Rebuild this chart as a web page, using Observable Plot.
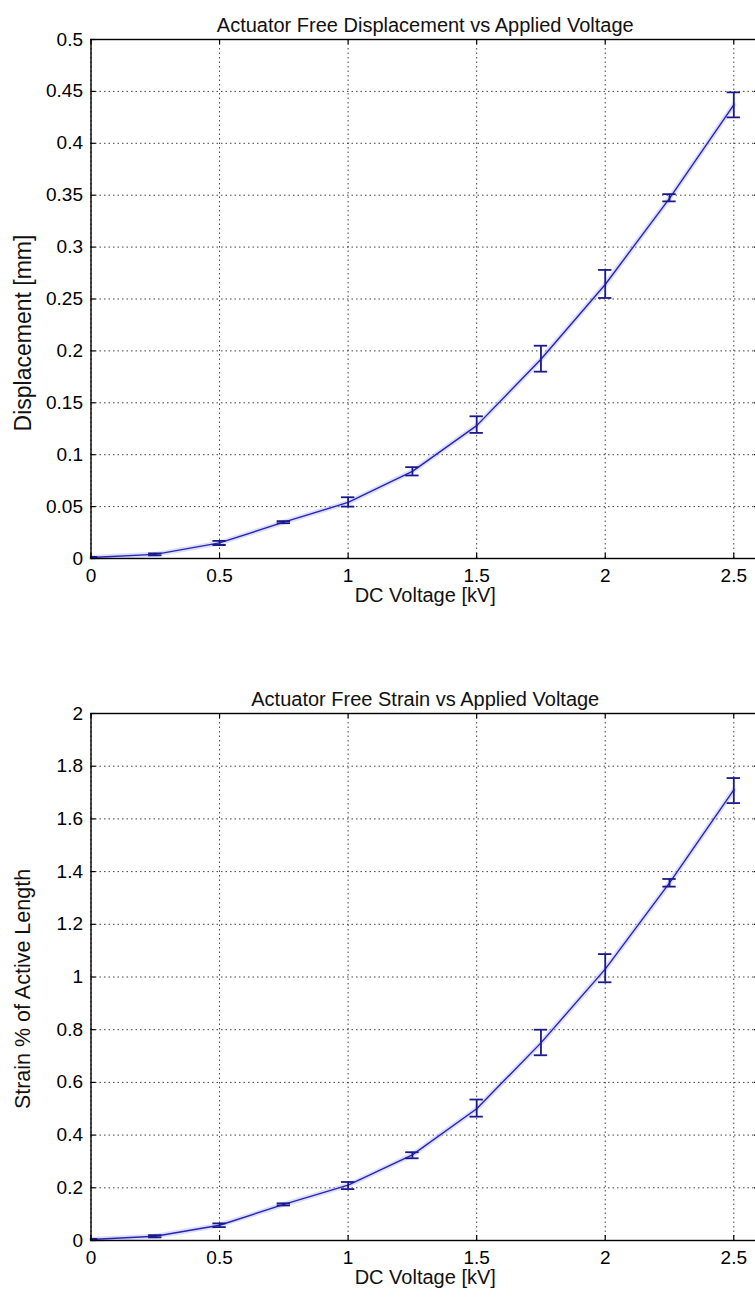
<!DOCTYPE html>
<html>
<head>
<meta charset="utf-8">
<script src="https://cdn.jsdelivr.net/npm/d3@7"></script>
<script src="https://cdn.jsdelivr.net/npm/@observablehq/plot@0.6"></script>
<style>
  html, body { margin: 0; padding: 0; background: #fff; overflow: hidden; }
  #chart { width: 755px; height: 1302px; overflow: hidden; position: relative; }
  #chart svg { display: block; max-width: none; }
</style>
</head>
<body>
<div id="chart"></div>
<script>
// Applied DC voltage steps [kV]
const voltage = [0, 0.25, 0.5, 0.75, 1.0, 1.25, 1.5, 1.75, 2.0, 2.25, 2.5];

// Free displacement [mm]: mean with min/max error range
const displacement     = [0.001, 0.004, 0.015, 0.035, 0.054, 0.084, 0.128, 0.192, 0.264, 0.347, 0.437];
const displacementLow  = [0.0005, 0.003, 0.013, 0.034, 0.050, 0.080, 0.121, 0.180, 0.251, 0.344, 0.425];
const displacementHigh = [0.0015, 0.005, 0.017, 0.036, 0.059, 0.088, 0.137, 0.205, 0.278, 0.351, 0.449];

// Free strain [% of active length]
const strain     = [0.004, 0.016, 0.058, 0.137, 0.210, 0.325, 0.500, 0.750, 1.030, 1.357, 1.710];
const strainLow  = [0.002, 0.012, 0.051, 0.133, 0.195, 0.312, 0.470, 0.703, 0.980, 1.343, 1.660];
const strainHigh = [0.006, 0.020, 0.065, 0.141, 0.222, 0.335, 0.535, 0.800, 1.087, 1.372, 1.755];

// Tick values
const xTicks = [0, 0.5, 1, 1.5, 2, 2.5];
const displacementTicks = [0, 0.05, 0.1, 0.15, 0.2, 0.25, 0.3, 0.35, 0.4, 0.45, 0.5];
const strainTicks = [0, 0.2, 0.4, 0.6, 0.8, 1, 1.2, 1.4, 1.6, 1.8, 2];

const FONT = "'Liberation Sans', Arial, Helvetica, sans-serif";
const LINE = "#2626b0";
const BAR = "#1a1a8c";

function panel({title, yLabel, yLabelSize, yLabelShift, mean, low, high, yTicks, yMax, marginTop, height, marginBottom}) {
  const width = 770, marginLeft = 90.5, marginRight = 11;
  const xMax = 2.6;
  const rows = voltage.map((v, i) => ({v, m: mean[i], lo: low[i], hi: high[i]}));
  const plotW = width - marginLeft - marginRight;
  const plotH = height - marginTop - marginBottom;
  // inward tick length of 5px expressed in data units
  const tx = 5 * xMax / plotW, ty = 5 * yMax / plotH;
  const cap = 0.026;
  return Plot.plot({
    width, height, marginLeft, marginRight, marginTop, marginBottom,
    style: {fontFamily: FONT, fontSize: "19px", color: "black", background: "white", overflow: "visible"},
    x: {domain: [0, xMax]},
    y: {domain: [0, yMax]},
    marks: [
      Plot.gridX(xTicks, {stroke: "#111", strokeOpacity: 0.8, strokeDasharray: "1.5,3"}),
      Plot.gridY(yTicks, {stroke: "#111", strokeOpacity: 0.8, strokeDasharray: "1.5,3"}),
      // soft halo under the curve
      Plot.line(rows, {x: "v", y: "m", stroke: "#b4b4ff", strokeWidth: 5, strokeOpacity: 0.45}),
      Plot.line(rows, {x: "v", y: "m", stroke: LINE, strokeWidth: 1.4}),
      // error bars
      Plot.ruleX(rows, {x: "v", y1: "lo", y2: "hi", stroke: BAR, strokeWidth: 1.8}),
      Plot.ruleY(rows, {y: "lo", x1: d => d.v - cap, x2: d => d.v + cap, stroke: BAR, strokeWidth: 1.8, clip: true}),
      Plot.ruleY(rows, {y: "hi", x1: d => d.v - cap, x2: d => d.v + cap, stroke: BAR, strokeWidth: 1.8, clip: true}),
      Plot.frame({stroke: "black", strokeWidth: 1.4}),
      // inward ticks on all four sides
      Plot.ruleX(xTicks, {x: d => d, y1: 0, y2: ty, stroke: "black", strokeWidth: 1.2}),
      Plot.ruleX(xTicks, {x: d => d, y1: yMax - ty, y2: yMax, stroke: "black", strokeWidth: 1.2}),
      Plot.ruleY(yTicks, {y: d => d, x1: 0, x2: tx, stroke: "black", strokeWidth: 1.2}),
      Plot.ruleY(yTicks, {y: d => d, x1: xMax - tx, x2: xMax, stroke: "black", strokeWidth: 1.2}),
      Plot.axisX(xTicks, {tickSize: 0, tickPadding: 10, tickFormat: d => String(d), label: null, fontSize: 19}),
      Plot.axisY(yTicks, {tickSize: 0, tickPadding: 8, tickFormat: d => String(d), label: null, fontSize: 19}),
      Plot.text([title], {frameAnchor: "top", dy: -22, fontSize: 20, fill: "#111"}),
      Plot.text(["DC Voltage [kV]"], {frameAnchor: "bottom", dy: 43, fontSize: 20, fill: "#111"}),
      Plot.text([yLabel], {frameAnchor: "left", textAnchor: "middle", dx: -67.5, dy: yLabelShift,
                           rotate: -90, fontSize: yLabelSize, fill: "#111"})
    ]
  });
}

const chart = document.getElementById("chart");
chart.append(panel({
  title: "Actuator Free Displacement vs Applied Voltage",
  yLabel: "Displacement [mm]", yLabelSize: 23, yLabelShift: 34,
  mean: displacement, low: displacementLow, high: displacementHigh,
  yTicks: displacementTicks, yMax: 0.5,
  marginTop: 39, height: 640, marginBottom: 82
}));
chart.append(panel({
  title: "Actuator Free Strain vs Applied Voltage",
  yLabel: "Strain % of Active Length", yLabelSize: 21.5, yLabelShift: 12,
  mean: strain, low: strainLow, high: strainHigh,
  yTicks: strainTicks, yMax: 2,
  marginTop: 73, height: 662, marginBottom: 62
}));
</script>
</body>
</html>
